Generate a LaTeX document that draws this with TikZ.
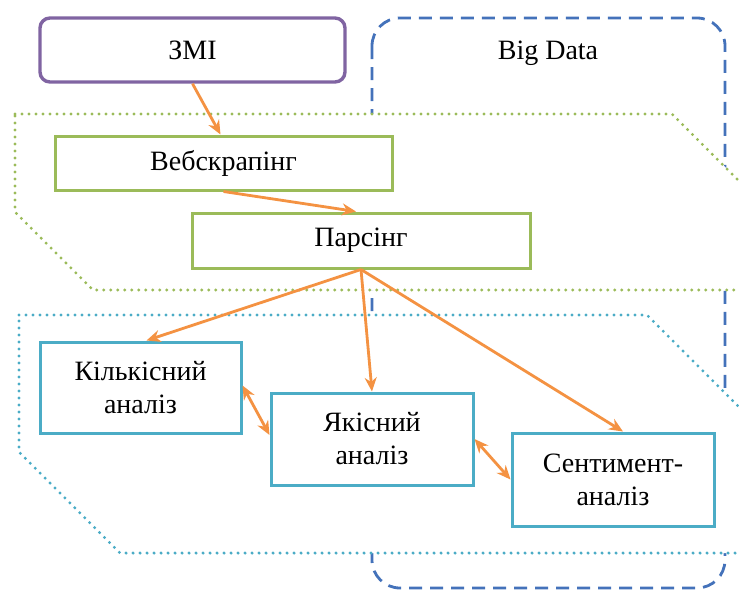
\documentclass[tikz,border=0pt]{standalone}
\usepackage{fontspec}
\setmainfont{Liberation Serif}
\usetikzlibrary{arrows.meta,positioning}
\definecolor{smipurple}{RGB}{128,100,162}
\definecolor{procgreen}{RGB}{155,187,89}
\definecolor{anteal}{RGB}{75,172,198}
\definecolor{flowarrow}{RGB}{244,146,66}
\definecolor{bigblue}{RGB}{68,114,186}

\begin{document}
\begin{tikzpicture}[x=1pt, y=-1pt,
    box/.style={rectangle, draw, line width=3pt, fill=white, align=center, inner sep=0pt,
        font=\fontsize{28}{33}\selectfont},
    srcbox/.style={box, draw=smipurple, rounded corners=10pt, line width=3.4pt},
    procbox/.style={box, draw=procgreen},
    anbox/.style={box, draw=anteal},
    dotzone/.style={line width=3.3pt, dash pattern=on 0pt off 7pt, line cap=round, fill=white},
    arrow/.style={-{Stealth[length=14pt, width=12pt]}, line width=2.8pt, draw=flowarrow, fill=flowarrow},
    dblarrow/.style={{Stealth[length=14pt, width=12pt]}-{Stealth[length=14pt, width=12pt]}, line width=2.8pt, draw=flowarrow, fill=flowarrow}]

\useasboundingbox (0,0) rectangle (739,590);
\clip (0,0) rectangle (739,590);

% Big Data frame and the two zones
\draw[draw=bigblue, line width=2.8pt, dash pattern=on 13pt off 8pt, rounded corners=28pt] (372,18) rectangle (725,588);
\node[font=\fontsize{28}{33}\selectfont] (bigdata) at (548,53) {Big Data};
\draw[dotzone, draw=procgreen] (15,114) -- (672,114) -- (780,222) -- (780,290) -- (93,290) -- (15,212) -- cycle;
\draw[dotzone, draw=anteal] (19,315) -- (647,315) -- (780,448) -- (780,553) -- (120,553) -- (19,452) -- cycle;

\node[srcbox, minimum width=305pt, minimum height=64pt] (zmi) at (192.5,50) {ЗМІ};
\node[procbox, minimum width=337pt, minimum height=54pt] (veb) at (223.5,163) {Вебскрапінг};
\node[procbox, minimum width=338pt, minimum height=55pt] (pars) at (361,240.5) {Парсінг};
\node[anbox, minimum width=201pt, minimum height=91pt] (kilk) at (140.5,387.5) {Кількісний\\аналіз};
\node[anbox, minimum width=202pt, minimum height=92pt] (yak) at (372,439) {Якісний\\аналіз};
\node[anbox, minimum width=202pt, minimum height=93pt] (sent) at (613,479.5) {Сентимент-\\аналіз};

\draw[arrow] (zmi.south) -- ([xshift=-3pt]veb.north);
\draw[arrow] (veb.south) -- ([xshift=-5pt]pars.north);
\draw[arrow] (pars.south) -- ([xshift=6pt]kilk.north);
\draw[arrow] (pars.south) -- (yak.north);
\draw[arrow] (pars.south) -- ([xshift=10pt]sent.north);
\draw[dblarrow] ([yshift=2pt]kilk.east) -- ([yshift=4pt]yak.west);
\draw[dblarrow] (yak.east) -- (sent.west);
\end{tikzpicture}
\end{document}
